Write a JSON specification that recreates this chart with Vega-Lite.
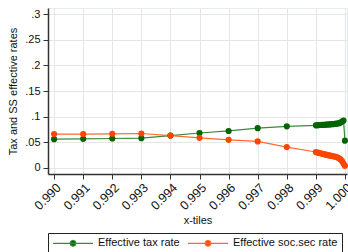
{
 "$schema": "https://vega.github.io/schema/vega-lite/v6.json",
 "width": 299, "height": 166,
 "autosize": "none",
 "padding": {"left": 48, "top": 8, "right": 1, "bottom": 78},
 "background": "white",
 "config": {
  "font": "Liberation Sans",
  "view": {"stroke": "#e4ecef", "strokeWidth": 1},
  "axis": {"gridColor": "#e6e6e6", "gridWidth": 1, "domainColor": "#333333", "tickColor": "#333333", "labelColor": "#111111", "titleColor": "#111111", "labelFontSize": 11, "titleFontSize": 11, "titleFontWeight": "normal", "tickSize": 5},
  "legend": {"title": null, "orient": "bottom", "offset": 7, "direction": "horizontal", "columns": 2,
     "strokeColor": "#222222", "fillColor": "#ffffff", "padding": 4, "labelFontSize": 11, "labelColor": "#111111", "columnPadding": 5, "labelOffset": 34,
     "symbolType": "M-1,0L7,0M3.6,0L3.42,0.42L3,0.6L2.58,0.42L2.4,0L2.58,-0.42L3,-0.6L3.42,-0.42Z", "symbolSize": 100, "symbolStrokeWidth": 1.2}
 },
 "data": {"values": [
  {"x": 0.990, "s": "Effective tax rate", "v": 0.056},
  {"x": 0.991, "s": "Effective tax rate", "v": 0.0567},
  {"x": 0.992, "s": "Effective tax rate", "v": 0.0573},
  {"x": 0.993, "s": "Effective tax rate", "v": 0.058},
  {"x": 0.994, "s": "Effective tax rate", "v": 0.063},
  {"x": 0.995, "s": "Effective tax rate", "v": 0.068},
  {"x": 0.996, "s": "Effective tax rate", "v": 0.072},
  {"x": 0.997, "s": "Effective tax rate", "v": 0.0775},
  {"x": 0.998, "s": "Effective tax rate", "v": 0.081},
  {"x": 0.99900, "s": "Effective tax rate", "v": 0.0830},
  {"x": 0.99905, "s": "Effective tax rate", "v": 0.0832},
  {"x": 0.99910, "s": "Effective tax rate", "v": 0.0834},
  {"x": 0.99915, "s": "Effective tax rate", "v": 0.0836},
  {"x": 0.99920, "s": "Effective tax rate", "v": 0.0838},
  {"x": 0.99925, "s": "Effective tax rate", "v": 0.0840},
  {"x": 0.99930, "s": "Effective tax rate", "v": 0.0842},
  {"x": 0.99935, "s": "Effective tax rate", "v": 0.0844},
  {"x": 0.99940, "s": "Effective tax rate", "v": 0.0846},
  {"x": 0.99945, "s": "Effective tax rate", "v": 0.0848},
  {"x": 0.99950, "s": "Effective tax rate", "v": 0.0850},
  {"x": 0.99955, "s": "Effective tax rate", "v": 0.0852},
  {"x": 0.99960, "s": "Effective tax rate", "v": 0.0855},
  {"x": 0.99965, "s": "Effective tax rate", "v": 0.0858},
  {"x": 0.99970, "s": "Effective tax rate", "v": 0.0862},
  {"x": 0.99975, "s": "Effective tax rate", "v": 0.0866},
  {"x": 0.99980, "s": "Effective tax rate", "v": 0.0872},
  {"x": 0.99985, "s": "Effective tax rate", "v": 0.0885},
  {"x": 0.99990, "s": "Effective tax rate", "v": 0.0905},
  {"x": 0.99995, "s": "Effective tax rate", "v": 0.0925},
  {"x": 1.00000, "s": "Effective tax rate", "v": 0.0530},
  {"x": 0.990, "s": "Effective soc.sec rate", "v": 0.066},
  {"x": 0.991, "s": "Effective soc.sec rate", "v": 0.066},
  {"x": 0.992, "s": "Effective soc.sec rate", "v": 0.0665},
  {"x": 0.993, "s": "Effective soc.sec rate", "v": 0.067},
  {"x": 0.994, "s": "Effective soc.sec rate", "v": 0.063},
  {"x": 0.995, "s": "Effective soc.sec rate", "v": 0.0586},
  {"x": 0.996, "s": "Effective soc.sec rate", "v": 0.0547},
  {"x": 0.997, "s": "Effective soc.sec rate", "v": 0.0516},
  {"x": 0.998, "s": "Effective soc.sec rate", "v": 0.0405},
  {"x": 0.99900, "s": "Effective soc.sec rate", "v": 0.0310},
  {"x": 0.99905, "s": "Effective soc.sec rate", "v": 0.0300},
  {"x": 0.99910, "s": "Effective soc.sec rate", "v": 0.0292},
  {"x": 0.99915, "s": "Effective soc.sec rate", "v": 0.0285},
  {"x": 0.99920, "s": "Effective soc.sec rate", "v": 0.0278},
  {"x": 0.99925, "s": "Effective soc.sec rate", "v": 0.0271},
  {"x": 0.99930, "s": "Effective soc.sec rate", "v": 0.0264},
  {"x": 0.99935, "s": "Effective soc.sec rate", "v": 0.0257},
  {"x": 0.99940, "s": "Effective soc.sec rate", "v": 0.0250},
  {"x": 0.99945, "s": "Effective soc.sec rate", "v": 0.0244},
  {"x": 0.99950, "s": "Effective soc.sec rate", "v": 0.0238},
  {"x": 0.99955, "s": "Effective soc.sec rate", "v": 0.0232},
  {"x": 0.99960, "s": "Effective soc.sec rate", "v": 0.0226},
  {"x": 0.99965, "s": "Effective soc.sec rate", "v": 0.0220},
  {"x": 0.99970, "s": "Effective soc.sec rate", "v": 0.0212},
  {"x": 0.99975, "s": "Effective soc.sec rate", "v": 0.0200},
  {"x": 0.99980, "s": "Effective soc.sec rate", "v": 0.0185},
  {"x": 0.99985, "s": "Effective soc.sec rate", "v": 0.0165},
  {"x": 0.99990, "s": "Effective soc.sec rate", "v": 0.0130},
  {"x": 0.99995, "s": "Effective soc.sec rate", "v": 0.0085},
  {"x": 1.00000, "s": "Effective soc.sec rate", "v": 0.0040}
 ]},
 "encoding": {
  "x": {"field": "x", "type": "quantitative",
   "scale": {"domain": [0.98979, 1.00007], "nice": false, "zero": false},
   "axis": {"values": [0.990, 0.991, 0.992, 0.993, 0.994, 0.995, 0.996, 0.997, 0.998, 0.999, 1.000], "format": ".3f", "labelAngle": -45, "labelFontSize": 12.5, "labelPadding": 2, "labelOverlap": false, "labelBound": false, "title": "x-tiles", "titlePadding": 3, "domainWidth": 1.5}},
  "y": {"field": "v", "type": "quantitative",
   "scale": {"domain": [-0.012, 0.312], "nice": false, "zero": false},
   "axis": {"values": [0, 0.05, 0.1, 0.15, 0.2, 0.25, 0.3], "labelExpr": "datum.value == 0 ? '0' : replace(format(datum.value, '.2~f'), /^0/, '')", "title": "Tax and SS effective rates", "titlePadding": 6, "labelPadding": 3, "domainWidth": 1.5}}
 },
 "layer": [
  {"mark": {"type": "line", "strokeWidth": 1.2},
   "encoding": {"stroke": {"field": "s", "type": "nominal", "scale": {"domain": ["Effective tax rate", "Effective soc.sec rate"], "range": ["#3a8a3a", "#ff6a30"]},
    "legend": {"strokeColor": "#222222", "fillColor": "#ffffff", "encode": {"legend": {"update": {"stroke": {"value": "#222222"}, "strokeWidth": {"value": 1}, "fill": {"value": "#ffffff"}}}, "symbols": {"update": {"stroke": {"scale": "stroke", "field": "value"}, "fill": {"scale": "color", "field": "value"}, "fillOpacity": {"value": 1}, "strokeOpacity": {"value": 1}, "opacity": {"value": 1}}}}}}}},
  {"mark": {"type": "point", "filled": true, "size": 38, "opacity": 1},
   "encoding": {"color": {"field": "s", "type": "nominal", "scale": {"domain": ["Effective tax rate", "Effective soc.sec rate"], "range": ["#006400", "#ff4500"]},
    "legend": {"strokeColor": "#222222", "fillColor": "#ffffff", "encode": {"legend": {"update": {"stroke": {"value": "#222222"}, "strokeWidth": {"value": 1}, "fill": {"value": "#ffffff"}}}, "symbols": {"update": {"stroke": {"scale": "stroke", "field": "value"}, "fill": {"scale": "color", "field": "value"}, "fillOpacity": {"value": 1}, "strokeOpacity": {"value": 1}, "opacity": {"value": 1}}}}}}}}
 ]
}
